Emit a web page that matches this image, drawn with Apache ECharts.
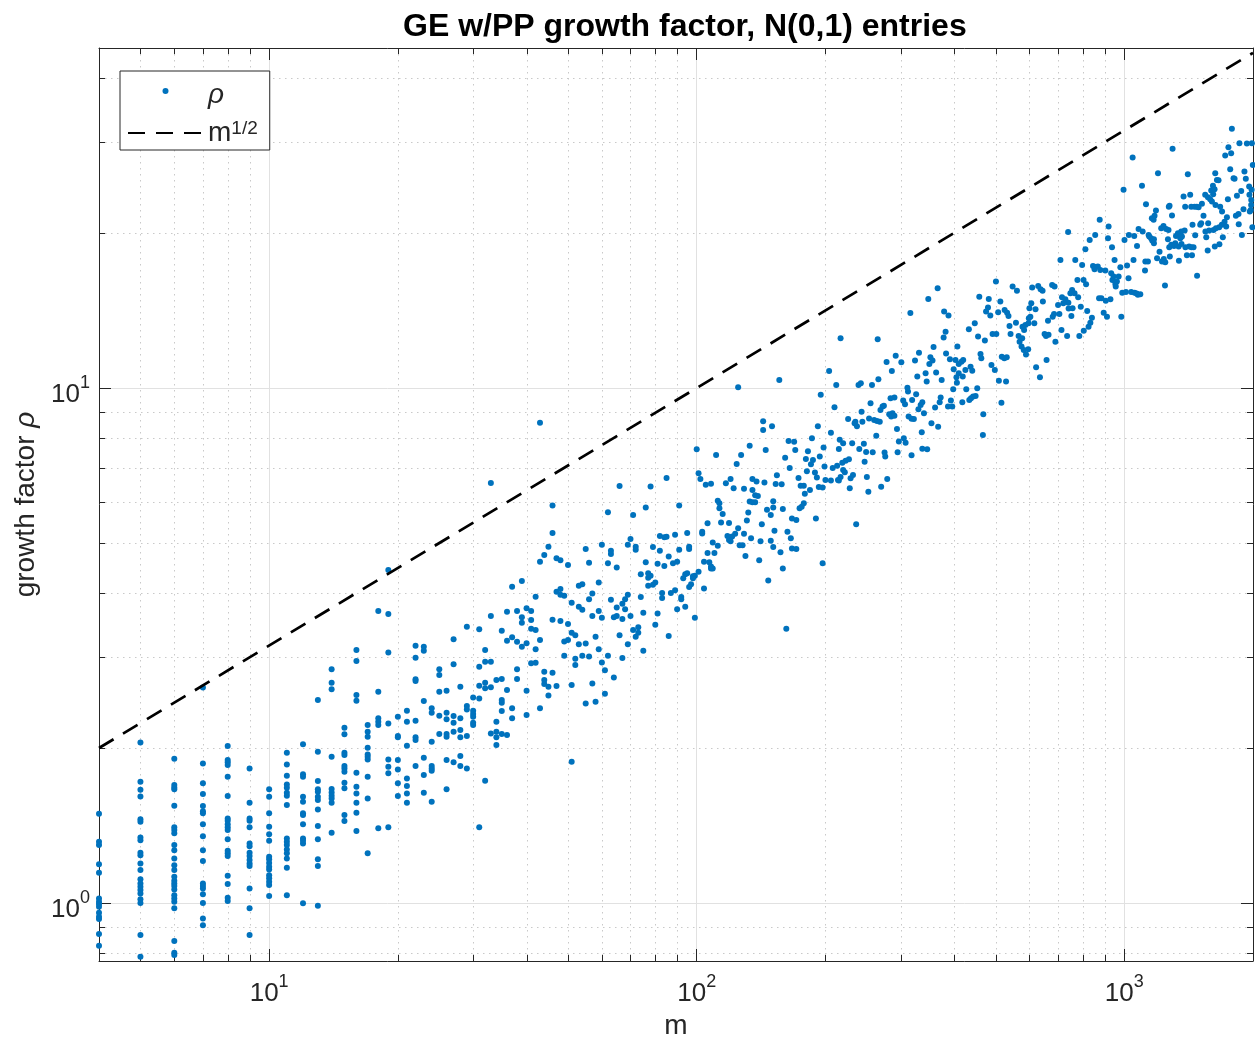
<!DOCTYPE html>
<html>
<head>
<meta charset="utf-8">
<script src="https://cdn.jsdelivr.net/npm/echarts@6/dist/echarts.min.js"></script>
<style>html,body{margin:0;padding:0;background:#fff}#c{width:1255px;height:1040px}</style>
</head>
<body>
<div id="c"></div>
<script>
// ---------- DATA ----------
// small m: several trials stacked at each integer m
const stackM = [4,5,6,7,8,9,10,11,12,13,14,15,16,17,18,19,20,21,22,23,24,25,26,27,28,29,30,31,32,33,34,35,36,37,38,39,40,41,42,43,44];
const stackRho = [
 [1.491,1.315,1.296,1.190,1.145,1.021,1.006,0.996,0.984,0.958,0.941,0.931,0.871,0.826],
 [2.051,1.720,1.660,1.611,1.454,1.438,1.341,1.325,1.252,1.239,1.194,1.159,1.112,1.092,1.076,1.060,1.044,1.017,1.001,0.867,0.787],
 [1.906,1.695,1.677,1.663,1.545,1.403,1.386,1.366,1.296,1.267,1.221,1.185,1.159,1.125,1.105,1.092,1.079,1.063,1.036,1.021,1.006,0.977,0.844,0.801,0.793],
 [2.62,1.867,1.708,1.628,1.543,1.508,1.494,1.422,1.349,1.267,1.207,1.092,1.079,1.068,1.040,1.001,0.934,0.906,0.769],
 [2.018,1.895,1.876,1.854,1.759,1.614,1.460,1.445,1.422,1.403,1.386,1.330,1.264,1.249,1.235,1.130,1.089,1.024,1.010],
 [1.826,1.566,1.460,1.445,1.403,1.306,1.290,1.252,1.234,1.212,1.194,1.180,1.068,0.977,0.867],
 [1.663,1.609,1.494,1.406,1.361,1.321,1.230,1.216,1.197,1.176,1.162,1.133,1.117,1.100,1.084,1.032],
 [1.958,1.859,1.767,1.700,1.674,1.637,1.616,1.550,1.335,1.315,1.296,1.271,1.249,1.221,1.171,1.036],
 [2.033,1.778,1.759,1.609,1.573,1.494,1.482,1.423,1.335,1.321,1.306,0.999],
 [2.479,1.967,1.725,1.663,1.645,1.609,1.585,1.520,1.411,1.331,1.216,1.180,0.988],
 [2.843,2.678,2.600,1.923,1.665,1.640,1.616,1.596,1.566,1.369],
 [2.190,2.126,1.958,1.938,1.845,1.826,1.799,1.713,1.670,1.482,1.443],
 [3.099,2.951,2.534,2.471,1.791,1.682,1.633,1.566,1.497,1.381],
 [2.216,2.150,2.103,2.002,1.944,1.923,1.901,1.759,1.596,1.249],
 [3.69,2.572,2.284,2.249,2.216,1.397],
 [4.43,3.64,3.067,2.233,1.901,1.839,1.786,1.403],
 [2.300,2.110,2.098,1.895,1.818,1.708,1.614],
 [2.362,2.249,2.021,1.746,1.688,1.633,1.566],
 [3.160,2.995,2.719,2.698,2.259,2.098,2.073,1.845],
 [3.146,3.090,2.467,1.915,1.772,1.637],
 [2.388,2.342,2.057,1.845,1.826,1.807,1.573],
 [2.843,2.771,2.572,2.311,2.129],
 [2.584,2.342,2.274,2.129,2.103,1.895,1.663],
 [3.251,2.907,2.307,2.239,2.150,1.876],
 [2.630,2.284,2.167,2.098,1.929,1.845],
 [3.440,2.413,2.377,2.110,1.826],
 [2.508,2.362,2.328,2.300,2.239,2.216],
 [3.400,2.876,2.642,2.497,1.403],
 [3.099,2.942,2.678,2.612,1.728],
 [6.54,3.608,2.942,2.623,2.134],
 [2.710,2.249,2.150,2.098,2.027],
 [3.379,2.723,2.479,2.449,2.360,2.129],
 [3.678,3.231,2.592,2.120],
 [4.113,3.281,2.388,2.284],
 [3.690,3.217,2.843,2.723],
 [4.220,3.587,3.501,3.146],
 [3.735,3.193,2.584,2.317],
 [3.690,3.543,3.409,2.920],
 [3.933,3.389,3.109,2.929],
 [8.56,4.599,3.241,2.388],
 [4.739,2.813,2.710,2.662]
];
// larger m: individual [m, rho] samples
const cloudA = [[66,6.45],[78,6.44],[85,6.69],[62,5.74],[71,5.67],[76,5.86],[91,5.91],[46,5.91],[46,5.23],[70,5.09],[69,4.96],[72,4.92],[72,4.85],[60,4.96],[55,4.87],[63,4.83],[63,4.76],[62,4.57],[65,4.48],[56,4.58],[50,4.53],[47,4.67],[48,4.63],[45,4.92],[79,4.91],[82,5.16],[85,5.14],[84,5.13],[89,5.19],[82,4.83],[76,4.59],[81,4.56],[84,4.51],[86,4.71],[88,4.57],[90,4.60],[91,4.85],[74,4.35],[77,4.37],[77,4.28],[78,4.32],[80,4.19],[79,4.15],[77,4.13],[74,3.93],[69,3.97],[68,3.89],[67,3.81],[65,3.75],[68,3.72],[70,3.61],[65,3.61],[64,3.59],[63,3.88],[67,3.56],[59,4.19],[54,4.16],[53,4.13],[57,3.99],[56,3.89],[51,3.83],[53,3.76],[54,3.71],[59,3.69],[60,3.58],[57,3.61],[47,4.02],[48,4.07],[48,3.97],[49,3.95],[46,3.55],[48,3.53],[50,3.48],[51,3.35],[52,3.31],[50,3.24],[49,3.22],[53,3.18],[55,3.19],[58,3.29],[59,3.11],[62,3.02],[60,2.93],[61,2.83],[64,2.74],[66,3.31],[69,3.18],[67,2.99],[71,3.39],[72,3.29],[73,3.35],[73,3.43],[75,3.66],[75,3.09],[80,3.47],[81,3.65],[86,3.30],[87,4.00],[89,4.05],[83,4.00],[83,3.91],[90,3.72],[92,3.93],[92,3.89],[54,3.02],[52,2.98],[52,2.90],[56,3.01],[49,3.02],[46,2.80],[45,2.63],[47,2.64],[45,2.53],[51,2.65],[57,2.67],[55,2.44],[58,2.46],[61,2.55],[51,1.88]];
const cloudB = [[156,10.36],[125,10.03],[195,9.70],[143,8.62],[143,8.29],[150,8.43],[192,8.43],[186,7.99],[164,7.89],[169,7.86],[100,7.60],[111,7.41],[133,7.72],[145,7.58],[170,7.58],[182,7.54],[198,7.66],[127,7.41],[124,7.12],[161,7.32],[165,6.99],[180,7.28],[187,7.25],[185,7.11],[194,7.36],[199,7.04],[101,6.83],[102,6.66],[105,6.49],[108,6.52],[117,6.53],[120,6.66],[122,6.39],[129,6.37],[135,6.66],[138,6.58],[144,6.55],[154,6.77],[153,6.51],[158,6.50],[173,6.69],[175,6.46],[178,6.46],[181,6.89],[189,6.85],[191,6.70],[193,6.42],[197,6.41],[200,6.63],[179,6.23],[184,6.34],[112,6.04],[113,5.97],[113,5.84],[115,5.69],[106,5.46],[114,5.48],[119,5.47],[132,5.73],[131,5.53],[133,6.02],[135,6.00],[137,6.00],[137,6.19],[139,6.17],[135,6.34],[142,5.44],[146,5.80],[149,5.67],[151,6.03],[151,5.86],[159,5.82],[152,5.28],[163,5.26],[167,5.58],[171,5.54],[174,5.84],[176,5.88],[178,5.97],[190,5.58],[166,5.11],[167,4.88],[171,4.87],[157,4.80],[151,4.91],[149,5.05],[141,5.04],[140,4.63],[130,4.72],[134,5.11],[125,5.34],[129,5.21],[123,5.21],[121,5.15],[119,5.07],[120,5.04],[118,5.16],[126,4.95],[128,4.95],[103,5.26],[103,5.22],[95,5.23],[96,4.92],[96,4.87],[106,4.78],[110,4.78],[112,4.94],[109,5.01],[104,4.60],[107,4.59],[108,4.50],[109,4.46],[108,4.46],[101,4.40],[99,4.32],[98,4.27],[98,4.31],[95,4.37],[94,4.35],[93,4.27],[97,4.16],[96,4.11],[94,3.76],[104,4.08],[99,3.58],[159,4.46],[147,4.23],[162,3.41],[197,4.57]];
const cloudC = [[366,15.62],[348,14.89],[316,13.98],[379,14.07],[388,13.82],[217,12.49],[265,12.43],[382,12.86],[378,12.53],[407,12.03],[358,12.01],[292,11.55],[301,11.22],[278,11.23],[331,11.71],[324,11.30],[352,11.47],[356,11.30],[350,11.13],[383,11.67],[391,11.37],[403,11.33],[410,11.13],[399,10.87],[410,10.68],[405,10.49],[406,10.24],[398,9.94],[396,9.20],[387,9.20],[393,9.45],[372,9.58],[370,9.38],[361,9.16],[374,10.36],[363,10.71],[343,10.68],[345,10.29],[328,10.52],[311,10.01],[312,9.84],[326,9.72],[319,9.48],[304,9.45],[307,9.30],[334,9.27],[337,9.38],[330,9.09],[340,8.93],[318,8.71],[313,8.80],[322,8.70],[290,9.58],[284,9.55],[272,9.20],[269,9.06],[274,9.24],[282,8.89],[287,8.93],[285,8.80],[290,8.83],[294,8.32],[297,7.87],[305,7.99],[308,7.83],[295,7.50],[318,7.40],[336,8.20],[337,7.62],[346,7.60],[354,8.54],[367,8.41],[275,7.49],[276,7.36],[263,8.08],[260,8.67],[264,8.63],[268,8.60],[253,8.72],[243,8.99],[255,9.34],[239,10.13],[242,10.21],[257,10.13],[266,10.40],[286,10.79],[212,10.13],[204,10.79],[210,9.17],[206,8.19],[226,8.70],[235,8.60],[237,8.43],[234,8.54],[244,8.60],[216,7.93],[220,7.81],[215,7.61],[231,7.81],[240,7.61],[246,7.79],[249,7.51],[247,7.19],[258,7.50],[227,7.27],[223,7.22],[219,7.16],[208,6.99],[213,7.06],[217,6.72],[206,6.61],[214,6.63],[215,6.61],[228,6.39],[229,6.68],[232,6.78],[222,6.86],[220,6.93],[252,6.29],[250,6.72],[270,6.43],[279,6.66],[236,5.44]];
const cloudD = [[876,21.20],[739,20.09],[855,19.82],[830,19.38],[811,18.59],[709,17.72],[768,17.72],[797,17.33],[845,17.25],[856,17.18],[867,17.21],[852,17.00],[879,16.95],[777,16.21],[803,16.21],[814,15.90],[755,15.50],[765,15.27],[748,15.27],[780,15.00],[678,15.85],[687,15.73],[609,15.66],[629,15.78],[637,15.55],[644,15.45],[548,15.73],[561,15.45],[501,16.09],[458,15.04],[482,14.89],[513,14.71],[480,14.32],[475,14.07],[486,13.82],[507,14.03],[525,14.17],[532,14.00],[536,13.80],[447,13.35],[433,13.00],[455,12.58],[472,12.36],[420,11.33],[416,11.24],[425,10.84],[437,11.00],[441,10.80],[419,10.52],[427,9.94],[438,9.55],[443,9.62],[449,9.65],[434,9.48],[418,9.38],[453,9.99],[468,8.89],[467,8.10],[489,11.08],[498,10.84],[461,11.64],[463,11.42],[509,10.33],[529,10.29],[516,9.36],[492,12.73],[502,12.73],[517,11.50],[524,11.42],[531,11.47],[542,12.73],[539,13.19],[558,13.39],[566,12.62],[569,12.30],[575,12.03],[582,11.85],[589,11.61],[596,11.89],[577,12.49],[578,13.15],[587,13.25],[597,13.35],[583,12.96],[598,13.65],[603,13.75],[616,13.35],[600,14.28],[606,14.60],[620,14.21],[645,14.71],[622,10.97],[635,10.49],[658,11.33],[651,12.73],[656,12.62],[665,12.68],[663,13.51],[680,13.75],[685,13.92],[690,12.30],[713,12.96],[705,13.91],[700,14.49],[715,15.00],[728,14.87],[740,14.64],[720,14.60],[741,14.26],[752,13.80],[757,14.28],[735,12.62],[785,12.62],[804,12.92],[825,13.15],[833,13.39],[840,13.69],[819,14.11],[791,14.38],[873,14.94]];
const cloudE = [[1785,31.84],[1859,29.87],[1935,29.83],[1988,29.87],[1752,29.34],[1722,28.26],[1778,28.56],[1297,29.12],[1046,28.01],[996,24.24],[1199,26.12],[1100,24.68],[1408,26.00],[1632,26.12],[1647,25.34],[1661,25.30],[1612,24.68],[1597,24.16],[1769,26.59],[1801,25.54],[1811,25.47],[1910,26.30],[1924,25.47],[1959,24.60],[1985,24.24],[1877,24.13],[1834,23.60],[1962,23.71],[1981,23.17],[1998,27.10],[1980,22.66],[1976,22.16],[1900,22.23],[1850,21.77],[1824,21.60],[1966,22.00],[1993,20.51],[1884,19.82],[1852,20.79],[1738,21.45],[1716,21.03],[1691,20.73],[1667,20.51],[1731,20.57],[1693,22.00],[1676,22.49],[1634,22.66],[1603,23.00],[1569,23.46],[1614,23.78],[1626,24.31],[1588,23.25],[1546,23.71],[1519,22.77],[1492,22.43],[1478,22.49],[1460,22.49],[1434,22.49],[1426,23.71],[1376,23.52],[1388,22.49],[1532,21.60],[1513,20.89],[1505,20.73],[1465,19.80],[1579,20.21],[1571,20.89],[1548,20.12],[1444,20.73],[1555,19.62],[1567,18.48],[1628,18.81],[1669,19.01],[1700,19.62],[1359,20.12],[1384,20.21],[1335,19.97],[1321,19.73],[1352,19.53],[1364,19.69],[1316,19.10],[1340,18.81],[1307,18.86],[1274,18.76],[1288,18.97],[1265,19.44],[1269,20.27],[1253,20.36],[1235,20.63],[1293,21.61],[1276,22.57],[1271,22.49],[1220,20.42],[1160,21.36],[1177,21.60],[1186,22.10],[1171,21.20],[1124,22.74],[1080,20.36],[1104,20.12],[1140,19.82],[1155,19.53],[1162,19.32],[1173,19.10],[1144,19.69],[1173,19.44],[1071,18.86],[1051,17.72],[1120,17.59],[1136,17.59],[1118,16.90],[1193,17.86],[1209,18.39],[1225,17.59],[1247,17.54],[1237,17.80],[1245,15.80],[1342,17.66],[1278,17.99],[1401,18.10],[1440,18.10],[1418,18.81],[1436,18.76],[1452,18.76],[1390,18.76],[1361,19.04],[1480,16.52],[1617,20.27],[1638,20.42],[1747,23.25],[919,20.57],[916,19.53],[936,18.76],[949,17.72],[979,17.16],[1015,17.28],[1023,16.33],[1001,19.38],[1025,19.82],[1055,19.73],[903,16.90],[932,16.70],[944,16.45],[938,16.21],[970,16.45],[961,16.09],[953,15.92],[955,15.73],[989,15.31],[1009,15.36],[1038,15.36],[1057,15.31],[1076,15.16],[1090,15.21],[1069,15.25],[884,14.94],[928,14.87],[905,14.77],[895,14.00],[911,13.75],[984,13.75]];
// reference curve m^(1/2) at the two ends of the m range
const refM = [4, 2000];
const refRho = [2, 44.72];
// axis ranges and minor (unlabelled) tick values
const xRange = [4, 2000];
const yRange = [0.772, 45.7];
const xMinor = [5,6,7,8,9,20,30,40,50,60,70,80,90,200,300,400,500,600,700,800,900];
const yMinor = [0.8,0.9,2,3,4,5,6,7,8,9,20,30,40];
const titleText = 'GE w/PP growth factor, N(0,1) entries';

// ---------- BUILD ----------
const FONT = '"Liberation Sans", Arial, Helvetica, sans-serif';
const AX = '#262626';
const rhoData = [];
stackM.forEach((m, i) => stackRho[i].forEach(r => rhoData.push([m, r])));
[cloudA, cloudB, cloudC, cloudD, cloudE].forEach(arr => arr.forEach(p => rhoData.push(p)));
const refData = refM.map((m, i) => [m, refRho[i]]);

function isPow10(v) { const l = Math.log10(v); return Math.abs(l - Math.round(l)) < 1e-6; }
function expLabel(v) { return isPow10(v) ? '{b|10}{s|' + Math.round(Math.log10(v)) + '}' : ''; }
const labelRich = {
  b: { fontSize: 26, fontFamily: FONT, color: AX, lineHeight: 34, verticalAlign: 'bottom' },
  s: { fontSize: 18, fontFamily: FONT, color: AX, lineHeight: 18, verticalAlign: 'top' }
};

function xAxisCfg(pos, main) {
  return {
    type: 'log', logBase: 10, min: xRange[0], max: xRange[1], position: pos,
    axisLine: { show: true, onZero: false, lineStyle: { color: AX, width: 1 } },
    axisTick: { show: true, inside: true, length: 12, lineStyle: { color: AX, width: 1 } },
    axisLabel: { show: main, interval: 0, formatter: expLabel, margin: 12, rich: labelRich },
    splitLine: { show: main, lineStyle: { color: '#e1e1e1', width: 1 } },
    minorTick: { show: false }, minorSplitLine: { show: false },
    name: main ? 'm' : '', nameLocation: 'middle', nameGap: 47,
    nameTextStyle: { fontSize: 28, fontFamily: FONT, color: AX }
  };
}
function yAxisCfg(pos, main) {
  return {
    type: 'log', logBase: 10, min: yRange[0], max: yRange[1], position: pos,
    axisLine: { show: true, onZero: false, lineStyle: { color: AX, width: 1 } },
    axisTick: { show: true, inside: true, length: 12, lineStyle: { color: AX, width: 1 } },
    axisLabel: { show: main, interval: 0, formatter: expLabel, margin: 9, padding: [6, 0, 0, 0], rich: labelRich },
    splitLine: { show: main, lineStyle: { color: '#e1e1e1', width: 1 } },
    minorTick: { show: false }, minorSplitLine: { show: false },
    name: main ? '{a|growth factor }{r|ρ}' : '', nameLocation: 'middle', nameGap: 50,
    nameTextStyle: { fontSize: 28, fontFamily: FONT, color: AX,
      rich: { a: { fontSize: 28, fontFamily: FONT, color: AX }, r: { fontSize: 28, fontFamily: FONT, fontStyle: 'italic', color: AX } } }
  };
}

function minorLines(vertical) {
  return function (params, api) {
    const cs = params.coordSys;
    const p = api.coord([api.value(0), api.value(1)]);
    const dot = { stroke: '#c9c9c9', lineWidth: 1, lineDash: [1.5, 4.5] };
    const tk = { stroke: AX, lineWidth: 1 };
    const L = 6;
    if (vertical) {
      const x = Math.round(p[0]) + 0.5, y0 = cs.y, y1 = cs.y + cs.height;
      return { type: 'group', children: [
        { type: 'line', shape: { x1: x, y1: y0, x2: x, y2: y1 }, style: dot },
        { type: 'line', shape: { x1: x, y1: y1, x2: x, y2: y1 - L }, style: tk },
        { type: 'line', shape: { x1: x, y1: y0, x2: x, y2: y0 + L }, style: tk }
      ]};
    } else {
      const y = Math.round(p[1]) + 0.5, x0 = cs.x, x1 = cs.x + cs.width;
      return { type: 'group', children: [
        { type: 'line', shape: { x1: x0, y1: y, x2: x1, y2: y }, style: dot },
        { type: 'line', shape: { x1: x0, y1: y, x2: x0 + L, y2: y }, style: tk },
        { type: 'line', shape: { x1: x1, y1: y, x2: x1 - L, y2: y }, style: tk }
      ]};
    }
  };
}

const chart = echarts.init(document.getElementById('c'), null, { renderer: 'canvas' });
chart.setOption({
  animation: false,
  backgroundColor: '#ffffff',
  title: {
    text: titleText, left: 398, top: 6,
    textStyle: { fontSize: 32, fontWeight: 'bold', fontFamily: FONT, color: '#000' }
  },
  grid: { left: 99, right: 2, top: 48, bottom: 79, containLabel: false, outerBoundsMode: 'none' },
  legend: {
    data: [{ name: 'rho', icon: 'circle' }, { name: 'sqrt', itemStyle: { opacity: 0, color: 'rgba(0,0,0,0)', borderWidth: 0 } }],
    orient: 'vertical', left: 120, top: 71,
    padding: [2, 12, 3, 7], itemGap: 0, itemWidth: 75, itemHeight: 6,
    backgroundColor: '#fff', borderColor: AX, borderWidth: 1, borderRadius: 0,
    selectedMode: false,
    formatter: n => n === 'rho' ? '{r|ρ}' : '{m|m}{p|1/2}',
    textStyle: {
      color: AX, fontFamily: FONT,
      rich: {
        r: { fontSize: 28, fontStyle: 'italic', fontFamily: FONT, color: AX, lineHeight: 30, padding: [8, 0, 0, 0] },
        m: { fontSize: 28, fontFamily: FONT, color: AX, lineHeight: 28, padding: [10, 0, 0, 0], verticalAlign: 'bottom' },
        p: { fontSize: 19, fontFamily: FONT, color: AX, lineHeight: 18, verticalAlign: 'top' }
      }
    }
  },
  xAxis: [xAxisCfg('bottom', true), xAxisCfg('top', false)],
  yAxis: [yAxisCfg('left', true), yAxisCfg('right', false)],
  series: [
    { type: 'custom', name: 'xminor', xAxisIndex: 0, yAxisIndex: 0, silent: true, z: 1,
      renderItem: minorLines(true), data: xMinor.map(v => [v, 1]) },
    { type: 'custom', name: 'yminor', xAxisIndex: 0, yAxisIndex: 0, silent: true, z: 1,
      renderItem: minorLines(false), data: yMinor.map(v => [10, v]) },
    { type: 'scatter', name: 'rho', xAxisIndex: 0, yAxisIndex: 0, z: 3,
      symbol: 'circle', symbolSize: 6, itemStyle: { color: '#0072BD', opacity: 1 },
      data: rhoData },
    { type: 'line', name: 'sqrt', xAxisIndex: 0, yAxisIndex: 0, z: 4,
      symbol: 'none', showSymbol: false,
      lineStyle: { color: '#000', width: 2.7, type: [17, 11] },
      itemStyle: { color: '#000' },
      data: refData }
  ]
});
</script>
</body>
</html>
